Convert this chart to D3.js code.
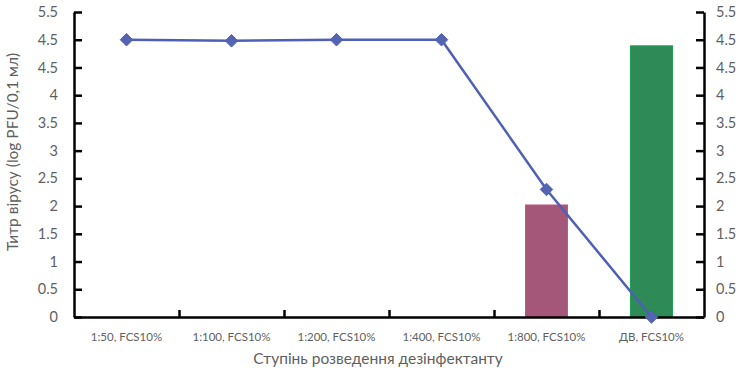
<!DOCTYPE html>
<html><head><meta charset="utf-8">
<script src="https://cdn.jsdelivr.net/npm/d3@7"></script>
<style>body{margin:0;background:#fff}svg{display:block}text{font-family:Lato,"Open Sans",sans-serif}</style>
</head><body><svg id="c" width="744" height="373"></svg>
<script>
const categories = ["1:50, FCS10%","1:100, FCS10%","1:200, FCS10%","1:400, FCS10%","1:800, FCS10%","ДВ, FCS10%"];
const lineValues = [5.0, 4.98, 5.0, 5.0, 2.3, 0];
const barValues = [null, null, null, null, 2.02, 4.89];
const barColors = [null, null, null, null, "#A5577A", "#2E8B57"];
const barStrokes = [null, null, null, null, "#C2568A", "#1FA052"];
const tickValues = [0,0.5,1,1.5,2,2.5,3,3.5,4,4.5,5,5.5];
const tickLabels = ["0","0.5","1","1.5","2","2.5","3","3.5","4","4.5","4.5","5.5"];
const yTitle = "Титр вірусу (log PFU/0,1 мл)";
const xTitle = "Ступінь розведення дезінфектанту";

const svg = d3.select("#c");
const L = 74, R = 704, T = 12, B = 317;
const x = d3.scaleBand().domain(categories).range([L, R]).padding(0);
const y = d3.scaleLinear().domain([0, 5.5]).range([B, T]);
const gray = "#5f5f5f";

// bars
svg.append("g").selectAll("rect").data(categories.map((c,i)=>({c,v:barValues[i],i})).filter(d=>d.v!=null))
  .join("rect")
  .attr("x", d => x(d.c) + x.bandwidth()*0.3)
  .attr("width", x.bandwidth()*0.4)
  .attr("y", d => y(d.v))
  .attr("height", d => y(0) - y(d.v))
  .attr("fill", d => barColors[d.i])
  .attr("stroke", d => barStrokes[d.i]).attr("stroke-width", 1);

// axes
const fmt = (d) => tickLabels[tickValues.indexOf(d)];
const yl = svg.append("g").attr("transform", `translate(${L},0)`)
  .call(d3.axisRight(y).tickValues(tickValues).tickFormat("").tickSize(8).tickSizeOuter(0));
const yr = svg.append("g").attr("transform", `translate(${R},0)`)
  .call(d3.axisLeft(y).tickValues(tickValues).tickFormat("").tickSize(8).tickSizeOuter(0));
const xa = svg.append("g").attr("transform", `translate(0,${B})`)
  .call(d3.axisTop(d3.scaleLinear().domain([0,6]).range([L,R])).ticks(6).tickFormat("").tickSize(7).tickSizeOuter(0));
[yl, yr, xa].forEach(g => { g.selectAll("path,line").attr("stroke", "#000").attr("stroke-width", 2.5); });
xa.selectAll(".tick").filter(d => d===0 || d===6).remove();

// tick labels
svg.append("g").selectAll("text").data(tickValues).join("text")
  .attr("x", 58).attr("y", d => y(d)).attr("dy", "0.35em").attr("text-anchor","end")
  .attr("fill", gray).attr("font-size", 14.5).text(fmt);
svg.append("g").selectAll("text").data(tickValues).join("text")
  .attr("x", 716).attr("y", d => y(d)).attr("dy", "0.35em").attr("text-anchor","start")
  .attr("fill", gray).attr("font-size", 14.5).text(fmt);
svg.append("g").selectAll("text").data(categories).join("text")
  .attr("x", d => x(d) + x.bandwidth()/2).attr("y", 341).attr("text-anchor","middle")
  .attr("fill", gray).attr("font-size", 11.5).text(d => d);

// titles
svg.append("text").attr("transform", `translate(18,152) rotate(-90)`).attr("text-anchor","middle")
  .attr("fill", gray).attr("font-size", 15.5).text(yTitle);
svg.append("text").attr("x", 378).attr("y", 364).attr("text-anchor","middle")
  .attr("fill", gray).attr("font-size", 15.5).text(xTitle);

// line
const pts = categories.map((c,i)=>({c,v:lineValues[i]}));
svg.append("path").datum(pts)
  .attr("d", d3.line().x(d => x(d.c)+x.bandwidth()/2).y(d => y(d.v)))
  .attr("fill","none").attr("stroke","#4F5FB5").attr("stroke-width",2.5);
svg.append("g").selectAll("path").data(pts).join("path")
  .attr("transform", d => `translate(${x(d.c)+x.bandwidth()/2},${y(d.v)})`)
  .attr("d", d3.symbol(d3.symbolDiamond2, 100))
  .attr("fill","#5563B3").attr("stroke","#4F5FB5");
</script></body></html>
